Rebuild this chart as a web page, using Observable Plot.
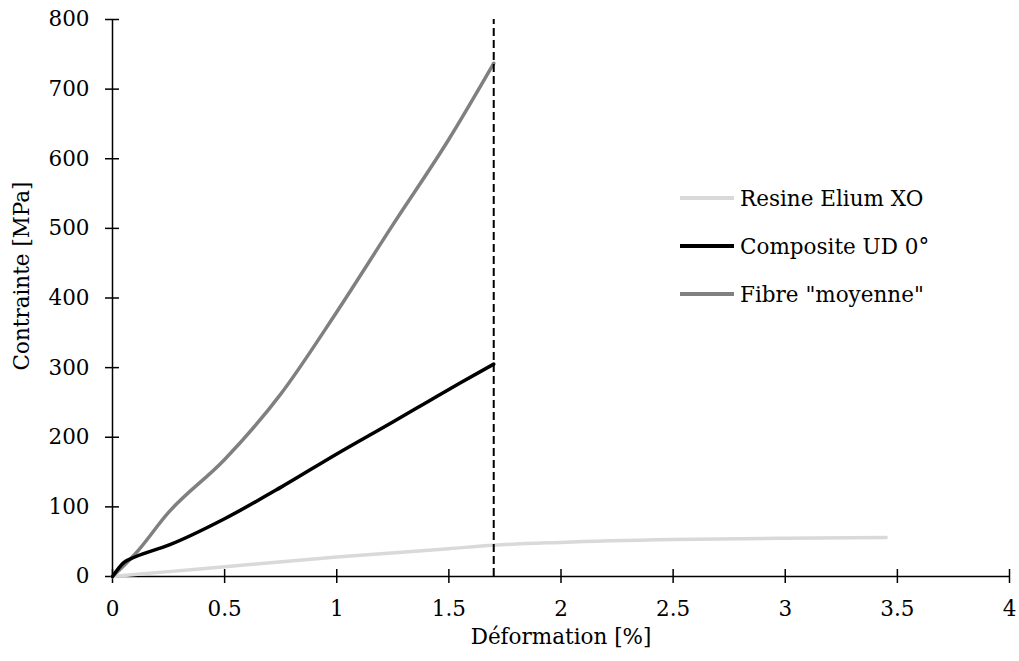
<!DOCTYPE html>
<html><head><meta charset="utf-8">
<script src="https://cdn.jsdelivr.net/npm/d3@7"></script>
<script src="https://cdn.jsdelivr.net/npm/@observablehq/plot@0.6"></script>
<style>
body{margin:0;background:#fff;}
#wrap{position:relative;width:1019px;height:661px;font-family:"DejaVu Serif",serif;}
#legend{position:absolute;left:680px;top:174px;font-size:21.5px;color:#000;}
.row{display:flex;align-items:center;height:48px;}
.sw{width:54px;height:3.5px;margin-right:6px;}
</style></head>
<body><div id="wrap"><div id="legend"></div></div>
<script>
const seriesNames = ["Resine Elium XO", "Composite UD 0°", "Fibre \"moyenne\""];
const seriesColors = ["#d9d9d9", "#000000", "#808080"];

const resinStrain = [0, 0.25, 0.5, 1, 1.5, 1.7, 2, 2.5, 3, 3.45];
const resinStress = [0, 7, 14, 28, 40, 45, 49, 53, 55, 56];

const compStrain = [0, 0.05, 0.1, 0.25, 0.5, 0.75, 1.0, 1.25, 1.4, 1.55, 1.7];
const compStress = [0, 20, 28, 45, 83, 128, 176, 222, 250, 278, 305];

const fibreStrain = [0, 0.1, 0.25, 0.5, 0.75, 1.0, 1.25, 1.5, 1.7];
const fibreStress = [0, 32, 92, 168, 262, 380, 505, 628, 737];

const ruptureStrain = [1.7];
const xTicks = [0, 0.5, 1, 1.5, 2, 2.5, 3, 3.5, 4];
const yTicks = [0, 100, 200, 300, 400, 500, 600, 700, 800];
const xLabel = "Déformation [%]";
const yLabel = "Contrainte [MPa]";

const toRows = (xs, ys, s) => xs.map((x, i) => ({x, y: ys[i], s}));
const resin = toRows(resinStrain, resinStress, seriesNames[0]);
const comp = toRows(compStrain, compStress, seriesNames[1]);
const fibre = toRows(fibreStrain, fibreStress, seriesNames[2]);

const chart = Plot.plot({
  width: 1019, height: 661,
  marginTop: 19, marginRight: 10, marginBottom: 85, marginLeft: 112,
  style: {fontFamily: "DejaVu Serif, serif", fontSize: "21.5px", color: "#000", background: "#fff"},
  x: {domain: [0, 4]},
  y: {domain: [0, 800]},
  marks: [
    Plot.axisX({ticks: xTicks, tickSize: 0, tickPadding: 24, tickFormat: d => String(d),
      label: xLabel, labelAnchor: "center", labelArrow: "none", labelOffset: 67, fontSize: 21.5}),
    Plot.axisY({ticks: yTicks, tickSize: 0, tickPadding: 23, tickFormat: d => String(d), label: null, fontSize: 21.5}),
    Plot.text([yLabel], {text: d => d, frameAnchor: "left", textAnchor: "middle", rotate: -90, dx: -90, dy: -22, fontSize: 21.5, fill: "#000"}),
    Plot.ruleX(xTicks, {x: d => d, y1: 0, y2: 0, insetTop: -7, insetBottom: -7, stroke: "#000", strokeWidth: 1.5}),
    Plot.ruleY(yTicks, {y: d => d, x1: 0, x2: 0, insetLeft: -7, insetRight: -7, stroke: "#000", strokeWidth: 1.5}),
    Plot.ruleY([0], {stroke: "#000", strokeWidth: 1.5}),
    Plot.ruleX([0], {stroke: "#000", strokeWidth: 1.5}),
    Plot.line(resin, {x: "x", y: "y", stroke: seriesColors[0], strokeWidth: 3.5, curve: "monotone-x"}),
    Plot.line(fibre, {x: "x", y: "y", stroke: seriesColors[2], strokeWidth: 3.5, curve: "monotone-x"}),
    Plot.line(comp, {x: "x", y: "y", stroke: seriesColors[1], strokeWidth: 3.5, curve: "monotone-x"}),
    Plot.ruleX(ruptureStrain, {x: d => d, y1: 0, y2: 800, stroke: "#000", strokeWidth: 2, strokeDasharray: "8,4"})
  ]
});
const wrap = document.getElementById("wrap");
wrap.insertBefore(chart, wrap.firstChild);
const leg = document.getElementById("legend");
seriesNames.forEach((n, i) => {
  const r = document.createElement("div"); r.className = "row";
  const sw = document.createElement("div"); sw.className = "sw"; sw.style.background = seriesColors[i];
  const t = document.createElement("span"); t.textContent = n;
  r.appendChild(sw); r.appendChild(t); leg.appendChild(r);
});
</script></body></html>
